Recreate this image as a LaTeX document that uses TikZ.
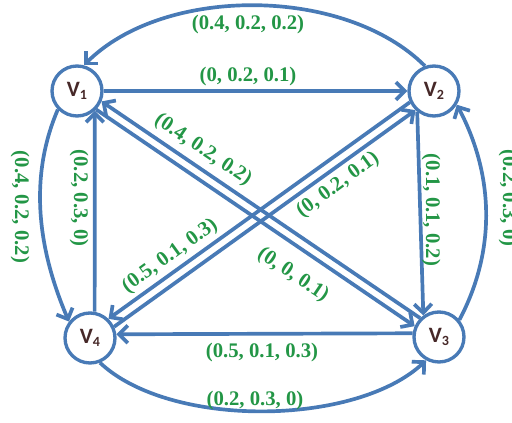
\documentclass[tikz,border=0pt]{standalone}
\usepackage{fontspec}
\setmainfont{Liberation Serif}
\newfontfamily\nodefont{Carlito}
\usetikzlibrary{arrows.meta}
\definecolor{edgeblue}{RGB}{72,122,182}
\definecolor{lblgreen}{RGB}{35,150,70}
\definecolor{vtext}{RGB}{70,40,40}
\newcommand{\vlab}[1]{V\raisebox{-0.35ex}{\fontsize{8}{9}\selectfont #1}}
\begin{document}
\begin{tikzpicture}[x=0.02cm,y=0.02cm,
  vert/.style={circle,draw=edgeblue,line width=1.9pt,fill=white,minimum size=1.0cm,inner sep=0pt,
    font=\nodefont\bfseries\fontsize{12.5}{13}\selectfont,text=vtext},
  edge/.style={draw=edgeblue,line width=2.1pt,-{Straight Barb[length=5pt,width=10pt,line width=2.1pt]}},
  lbl/.style={font=\bfseries\fontsize{11.8}{13}\selectfont,text=lblgreen,inner sep=0pt}]
\useasboundingbox (0,0) rectangle (512,423);
\clip (0,0) rectangle (512,423);
% nodes
\node[vert] (V1) at (77,332) {\vlab{1}};
\node[vert] (V2) at (434,332) {\vlab{2}};
\node[vert] (V4) at (90,85) {\vlab{4}};
\node[vert] (V3) at (439,86) {\vlab{3}};
% straight edges
\draw[edge] (V1) -- (V2);
\draw[edge] (V3.172) -- (V4.8);
\draw[edge] (V4.80) -- (V1.-48);
\draw[edge] (V2.-129) -- (V3.126);
% diagonals
\draw[edge] (V3.135) -- (V1.-23.5);
\draw[edge] (V1.-44.9) -- (V3.156.5);
\draw[edge] (V2.205) -- (V4.46.4);
\draw[edge] (V4.25) -- (V2.226.4);
% arcs
\draw[edge] (V2.110) .. controls +(-80,80) and +(80,80) .. (V1.75);
\draw[edge] (V1.224) .. controls +(-30,-70) and +(-30,70) .. (V4.142);
\draw[edge] (V3.40) .. controls +(37,70) and +(37,-70) .. (V2.-31);
\draw[edge] (V4.-68) .. controls +(70,-66) and +(-70,-66) .. (V3.-119);
% labels
\node[lbl] (l1) at (248,398) {(0.4, 0.2, 0.2)};
\node[lbl] (l2) at (248,346) {(0, 0.2, 0.1)};
\node[lbl,rotate=-90] (l3) at (20,216) {(0.4, 0.2, 0.2)};
\node[lbl,rotate=-90] (l4) at (79,225) {(0.2, 0.3, 0)};
\node[lbl,rotate=-90] (l5) at (431,213) {(0.1, 0.1, 0.2)};
\node[lbl,rotate=-90] (l6) at (508,225) {(0.2, 0.3, 0)};
\node[lbl] (l7) at (262,70) {(0.5, 0.1, 0.3)};
\node[lbl] (l8) at (255,22) {(0.2, 0.3, 0)};
\node[lbl,rotate=-34] (l9) at (203,273) {(0.4, 0.2, 0.2)};
\node[lbl,rotate=-34] (l10) at (293,148) {(0, 0, 0.1)};
\node[lbl,rotate=36] (l11) at (170,167) {(0.5, 0.1, 0.3)};
\node[lbl,rotate=36] (l12) at (338,238) {(0, 0.2, 0.1)};
\end{tikzpicture}
\end{document}
